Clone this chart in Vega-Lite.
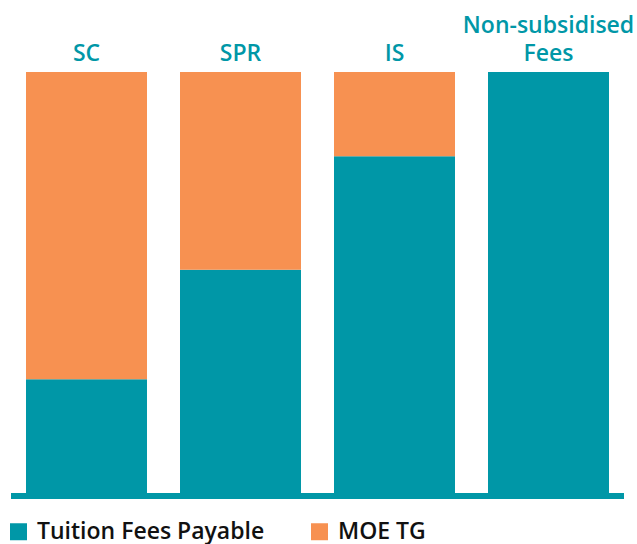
{
  "$schema": "https://vega.github.io/schema/vega-lite/v6.json",
  "width": 613,
  "height": 421,
  "autosize": {"type": "none"},
  "padding": {"left": 11, "top": 72, "right": 13, "bottom": 51},
  "background": "white",
  "config": {
    "view": {"stroke": null},
    "font": "Open Sans",
    "legend": {"padding": 0}
  },
  "data": {
    "values": [
      {"category": "SC", "component": "Tuition Fees Payable", "value": 27},
      {"category": "SC", "component": "MOE TG", "value": 73},
      {"category": "SPR", "component": "Tuition Fees Payable", "value": 53},
      {"category": "SPR", "component": "MOE TG", "value": 47},
      {"category": "IS", "component": "Tuition Fees Payable", "value": 80},
      {"category": "IS", "component": "MOE TG", "value": 20},
      {"category": "Non-subsidised Fees", "component": "Tuition Fees Payable", "value": 100},
      {"category": "Non-subsidised Fees", "component": "MOE TG", "value": 0}
    ]
  },
  "layer": [
    {
      "mark": {"type": "bar"},
      "encoding": {
        "x": {
          "field": "category",
          "type": "nominal",
          "sort": ["SC", "SPR", "IS", "Non-subsidised Fees"],
          "scale": {"paddingInner": 0.2143, "paddingOuter": 0.0974},
          "axis": null
        },
        "y": {
          "field": "value",
          "type": "quantitative",
          "stack": "zero",
          "scale": {"domain": [0, 100], "nice": false},
          "axis": null
        },
        "color": {
          "field": "component",
          "type": "nominal",
          "scale": {
            "domain": ["Tuition Fees Payable", "MOE TG"],
            "range": ["#0097A7", "#F79151"]
          },
          "legend": {
            "title": null,
            "orient": "none",
            "legendX": -4,
            "legendY": 448,
            "direction": "horizontal",
            "symbolType": "square",
            "symbolSize": 289,
            "symbolStrokeWidth": 0,
            "labelOffset": 7,
            "labelFont": "Open Sans",
            "labelFontSize": 23,
            "labelFontWeight": 600,
            "labelColor": "#111111",
            "labelLimit": 400,
            "columnPadding": 43
          }
        },
        "order": {"field": "component", "sort": "descending"}
      }
    },
    {
      "data": {"values": [{"baseline": 0}]},
      "mark": {"type": "rule", "color": "#0097A7", "strokeWidth": 6, "yOffset": 3},
      "encoding": {
        "y": {"field": "baseline", "type": "quantitative"}
      }
    },
    {
      "data": {
        "values": [
          {"category": "SC", "label": "SC"},
          {"category": "SPR", "label": "SPR"},
          {"category": "IS", "label": "IS"},
          {"category": "Non-subsidised Fees", "label": "Fees"}
        ]
      },
      "mark": {
        "type": "text",
        "baseline": "alphabetic",
        "align": "center",
        "dy": -11,
        "font": "Open Sans",
        "fontSize": 23,
        "fontWeight": 600,
        "color": "#0097A7"
      },
      "encoding": {
        "x": {"field": "category", "type": "nominal", "sort": ["SC", "SPR", "IS", "Non-subsidised Fees"]},
        "y": {"datum": 100, "type": "quantitative"},
        "text": {"field": "label"}
      }
    },
    {
      "data": {
        "values": [
          {"category": "Non-subsidised Fees", "label": "Non-subsidised"}
        ]
      },
      "mark": {
        "type": "text",
        "baseline": "alphabetic",
        "align": "center",
        "dy": -39,
        "font": "Open Sans",
        "fontSize": 23,
        "fontWeight": 600,
        "color": "#0097A7"
      },
      "encoding": {
        "x": {"field": "category", "type": "nominal", "sort": ["SC", "SPR", "IS", "Non-subsidised Fees"]},
        "y": {"datum": 100, "type": "quantitative"},
        "text": {"field": "label"}
      }
    }
  ]
}
